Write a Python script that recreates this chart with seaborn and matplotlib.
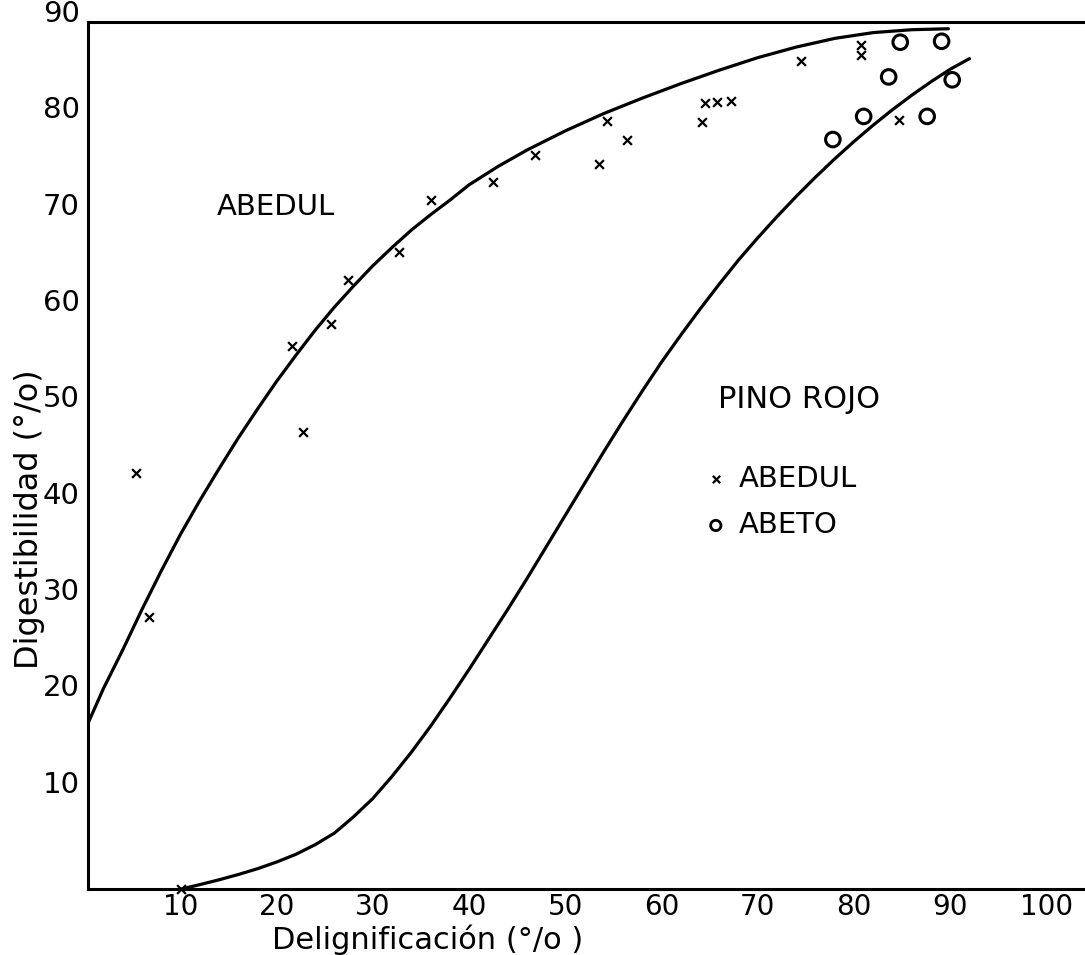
import matplotlib
matplotlib.use("Agg")
import matplotlib.pyplot as plt
import seaborn as sns

# ---- data ----
# ABEDUL (birch) observations, "x" markers
abedul_x = [5.4, 6.7, 10.1, 21.6, 22.7, 25.6, 27.4, 32.7, 36.0, 42.5, 46.8,
            53.5, 54.3, 56.4, 64.2, 64.5, 65.8, 67.2, 74.5, 80.7, 80.7, 84.7]
abedul_y = [43.2, 28.2, 0.0, 56.4, 47.4, 58.6, 63.2, 66.1, 71.5, 73.4, 76.2,
            75.3, 79.7, 77.7, 79.6, 81.6, 81.7, 81.8, 86.0, 87.6, 86.6, 79.8]

# ABETO (fir) observations, "o" markers
abeto_x = [77.8, 81.0, 83.6, 84.8, 87.6, 89.1, 90.2]
abeto_y = [77.8, 80.2, 84.3, 87.9, 80.2, 88.0, 84.0]

# fitted curve ABEDUL
curva_abedul_x = [0.4, 2, 4, 6, 8, 10, 12, 14, 16, 18, 20, 22, 24, 26, 28, 30,
                  32, 34, 36, 38, 40, 43, 46, 50, 54, 58, 62, 66, 70, 74, 78,
                  82, 86, 89.8]
curva_abedul_y = [17.2, 20.8, 24.8, 29.0, 33.0, 36.8, 40.3, 43.6, 46.8, 49.8,
                  52.7, 55.4, 58.0, 60.4, 62.6, 64.7, 66.6, 68.4, 70.0, 71.5,
                  73.1, 75.0, 76.7, 78.7, 80.5, 82.1, 83.6, 85.0, 86.3, 87.4,
                  88.3, 88.9, 89.2, 89.3]

# fitted curve PINO ROJO
curva_pino_x = [10.1, 12, 14, 16, 18, 20, 22, 24, 26, 28, 30, 32, 34, 36, 38,
                40, 42, 44, 46, 48, 50, 52, 54, 56, 58, 60, 62, 64, 66, 68,
                70, 72, 74, 76, 78, 80, 82, 84, 86, 88, 90, 92]
curva_pino_y = [0.0, 0.45, 0.95, 1.5, 2.1, 2.8, 3.6, 4.6, 5.8, 7.5, 9.4, 11.7,
                14.2, 16.9, 19.8, 22.8, 25.9, 29.0, 32.2, 35.5, 38.8, 42.1,
                45.4, 48.6, 51.7, 54.7, 57.5, 60.2, 62.8, 65.3, 67.6, 69.8,
                71.9, 73.9, 75.8, 77.6, 79.3, 80.9, 82.4, 83.8, 85.1, 86.2]

x_ticks = [10, 20, 30, 40, 50, 60, 70, 80, 90, 100]
y_ticks = [10, 20, 30, 40, 50, 60, 70, 80, 90]

# ---- figure ----
sns.set_style("white")
plt.rcParams['font.family'] = ['DejaVu Sans']
plt.rcParams.update({"text.color": "black", "axes.labelcolor": "black",
                     "xtick.color": "black", "ytick.color": "black"})

W, H = 1085, 955
fig = plt.figure(figsize=(W / 100, H / 100), dpi=100)
ax = fig.add_axes([88 / W, 66 / H, 997 / W, 867 / H])

sns.lineplot(x=curva_abedul_x, y=curva_abedul_y, sort=False, estimator=None,
             color="black", linewidth=2.3, ax=ax)
sns.lineplot(x=curva_pino_x, y=curva_pino_y, sort=False, estimator=None,
             color="black", linewidth=2.3, ax=ax)

sns.scatterplot(x=abedul_x, y=abedul_y, marker="x", s=40, color="black",
                linewidth=1.6, ax=ax, label="ABEDUL", clip_on=False, zorder=3)
sns.scatterplot(x=abeto_x, y=abeto_y, marker="o", s=110, facecolor="none",
                edgecolor="black", linewidth=2.2, ax=ax, label="ABETO",
                zorder=3)

ax.set_xlim(0.4, 104.0)
ax.set_ylim(0, 90)
ax.set_xticks(x_ticks)
ax.set_yticks(y_ticks)
ax.set_xticklabels([str(v) for v in x_ticks], fontsize=20)
ax.set_yticklabels([str(v) for v in y_ticks], fontsize=21)
for lab in ax.get_yticklabels():
    lab.set_verticalalignment("baseline")

ax.tick_params(axis="x", direction="in", length=9, width=1.5, pad=3)
ax.tick_params(axis="y", direction="inout", length=8, width=1.5, pad=2)

for side in ["left", "bottom", "top"]:
    ax.spines[side].set_visible(True)
    ax.spines[side].set_linewidth(2.2)
    ax.spines[side].set_color("black")
ax.spines["right"].set_visible(False)

ax.set_xlabel("Delignificación (°/o )", fontsize=22, va="center")
ax.set_ylabel("Digestibilidad (°/o)", fontsize=23, va="center")
ax.xaxis.set_label_coords(0.341, -0.058)
ax.yaxis.set_label_coords(-0.059, 0.426)

ax.text(19.9, 70.8, "ABEDUL", fontsize=21, ha="center", va="center")
ax.text(74.3, 50.8, "PINO ROJO", fontsize=22, ha="center", va="center")

leg = ax.legend(loc="upper left", bbox_to_anchor=(0.618, 0.489), frameon=False,
                fontsize=21, handlelength=0.8, handletextpad=0.4, borderpad=0,
                borderaxespad=0, labelspacing=0.62)
handles = leg.legend_handles
handles[0].set_sizes([28])
handles[1].set_sizes([55])
handles[1].set_linewidth(2.0)

fig.savefig("out.png", dpi=100, facecolor="white")
